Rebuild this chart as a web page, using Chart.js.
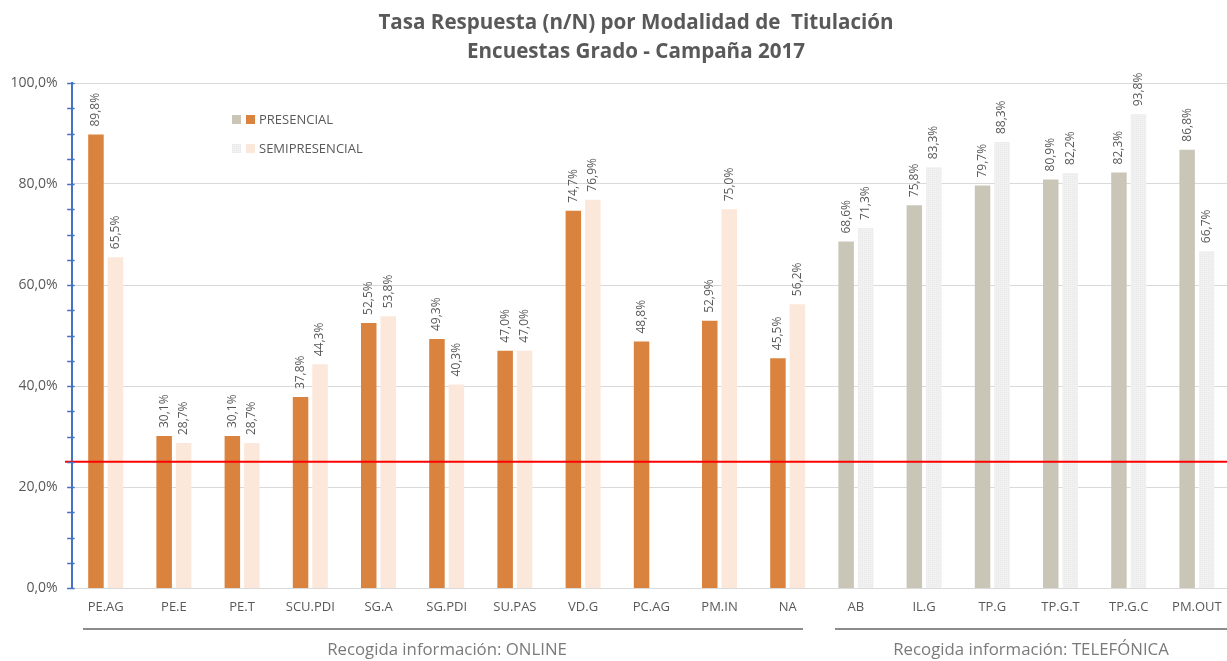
<!DOCTYPE html>
<html>
<head>
<meta charset="utf-8">
<script src="https://cdn.jsdelivr.net/npm/chart.js@4.4.1/dist/chart.umd.min.js"></script>
<style>
html,body{margin:0;padding:0;background:#fff;overflow:hidden;width:1227px;height:661px;}
#wrap{position:relative;width:1236px;height:661px;}
</style>
</head>
<body>
<div id="wrap"><canvas id="c"></canvas></div>
<script>
// ---- data ----
const categories = ["PE.AG","PE.E","PE.T","SCU.PDI","SG.A","SG.PDI","SU.PAS","VD.G","PC.AG","PM.IN","NA","AB","IL.G","TP.G","TP.G.T","TP.G.C","PM.OUT"];
const presencial = [89.8,30.1,30.1,37.8,52.5,49.3,47.0,74.7,48.8,52.9,45.5,68.6,75.8,79.7,80.9,82.3,86.8];
const semipresencial = [65.5,28.7,28.7,44.3,53.8,40.3,47.0,76.9,null,75.0,56.2,71.3,83.3,88.3,82.2,93.8,66.7];
const onlineCount = 11; // first 11 categories: ONLINE, rest: TELEFÓNICA
const threshold = 25;
const titleLines = ["Tasa Respuesta (n/N) por Modalidad de  Titulación","Encuestas Grado - Campaña 2017"];
const groupLabels = ["Recogida información: ONLINE","Recogida información: TELEFÓNICA"];
const legendLabels = ["PRESENCIAL","SEMIPRESENCIAL"];

// ---- styles ----
const C_ORANGE = "#D9833E", C_PEACH = "#FCE8DA", C_BEIGE = "#CAC6B7";
const FONT = "'Open Sans', 'DejaVu Sans', sans-serif";
const TXT = "#595959";

function dotPattern(){
  const p = document.createElement('canvas'); p.width = 2; p.height = 2;
  const g = p.getContext('2d');
  g.fillStyle = "#F1F1F1"; g.fillRect(0,0,2,2);
  g.fillStyle = "#E9E9E9"; g.fillRect(0,0,1,1);
  return g.createPattern(p,'repeat');
}
const LGRAY_PAT = dotPattern();

const fmt = v => v.toFixed(1).replace('.', ',') + '%';

const decorPlugin = {
  id: 'decor',
  afterDatasetsDraw(chart){
    const ctx = chart.ctx, ca = chart.chartArea, y = chart.scales.y;
    ctx.save();
    // threshold line
    const ty = y.getPixelForValue(threshold);
    ctx.strokeStyle = "#FF0000"; ctx.lineWidth = 2;
    ctx.beginPath(); ctx.moveTo(65, ty); ctx.lineTo(chart.width, ty); ctx.stroke();
    // minor/major ticks on y axis
    ctx.strokeStyle = "#4472C4"; ctx.lineWidth = 1.5;
    for (let v = 0; v <= 100; v += 5){
      const py = Math.round(y.getPixelForValue(v)) + 0.5;
      ctx.beginPath(); ctx.moveTo(ca.left - 4.5, py); ctx.lineTo(ca.left + 3, py); ctx.stroke();
    }
    // data labels
    ctx.fillStyle = TXT; ctx.font = "12px " + FONT;
    ctx.textAlign = 'left'; ctx.textBaseline = 'middle';
    chart.data.datasets.forEach((ds, di) => {
      const meta = chart.getDatasetMeta(di);
      meta.data.forEach((el, i) => {
        const v = ds.data[i];
        if (v === null || v === undefined) return;
        ctx.save();
        ctx.translate(el.x, el.y - 8);
        ctx.rotate(-Math.PI/2);
        ctx.fillText(fmt(v), 0, 0);
        ctx.restore();
      });
    });
    ctx.restore();
  },
  afterDraw(chart){
    const ctx = chart.ctx;
    ctx.save();
    // title
    ctx.fillStyle = TXT; ctx.font = "bold 20.6px " + FONT;
    ctx.textAlign = 'center'; ctx.textBaseline = 'middle';
    ctx.fillText(titleLines[0], 636, 23);
    ctx.fillText(titleLines[1], 636, 52);
    // legend
    ctx.font = "13px " + FONT; ctx.textAlign = 'left';
    const rows = [[C_BEIGE, C_ORANGE, 120],[LGRAY_PAT, C_PEACH, 149]];
    rows.forEach((r, k) => {
      ctx.fillStyle = r[0]; ctx.fillRect(232, r[2]-5, 9, 9);
      ctx.fillStyle = r[1]; ctx.fillRect(246, r[2]-5, 9, 9);
      ctx.fillStyle = TXT; ctx.fillText(legendLabels[k], 259, r[2]);
    });
    // group brackets
    ctx.strokeStyle = "#8C8C8C"; ctx.lineWidth = 2;
    ctx.beginPath(); ctx.moveTo(83, 629); ctx.lineTo(803, 629); ctx.stroke();
    ctx.beginPath(); ctx.moveTo(835, 629); ctx.lineTo(chart.width, 629); ctx.stroke();
    ctx.fillStyle = "#7A7A7A"; ctx.font = "16.8px " + FONT; ctx.textAlign = 'center';
    ctx.fillText(groupLabels[0], 447, 650);
    ctx.fillText(groupLabels[1], 1031, 650);
    ctx.restore();
  }
};

new Chart(document.getElementById('c'), {
  type: 'bar',
  data: {
    labels: categories,
    datasets: [
      { label: legendLabels[0], data: presencial,
        backgroundColor: ctx => ctx.dataIndex < onlineCount ? C_ORANGE : C_BEIGE },
      { label: legendLabels[1], data: semipresencial,
        backgroundColor: ctx => ctx.dataIndex < onlineCount ? C_PEACH : LGRAY_PAT }
    ]
  },
  options: {
    responsive: true, maintainAspectRatio: false, animation: false,
    layout: { padding: { top: 83, bottom: 43, left: 0, right: 5 } },
    datasets: { bar: { categoryPercentage: 0.572, barPercentage: 0.795 } },
    plugins: { legend: { display: false }, title: { display: false }, tooltip: { enabled: false } },
    scales: {
      x: {
        afterFit: s => { s.height = 30; },
        grid: { display: false, drawTicks: false },
        border: { color: "#D9D9D9", width: 1 },
        ticks: { color: TXT, font: { family: FONT, size: 13 }, padding: 11, maxRotation: 0, autoSkip: false }
      },
      y: {
        min: 0, max: 100,
        afterFit: s => { s.width = 71.6; },
        grid: { color: "#D9D9D9", drawTicks: false, lineWidth: ctx => ctx.tick.value === 0 ? 0 : 1 },
        border: { color: "#4472C4", width: 2 },
        ticks: { stepSize: 20, color: TXT, font: { family: FONT, size: 14 }, padding: 14,
          callback: v => v.toFixed(1).replace('.', ',') + '%' }
      }
    }
  },
  plugins: [decorPlugin]
});
</script>
</body>
</html>
